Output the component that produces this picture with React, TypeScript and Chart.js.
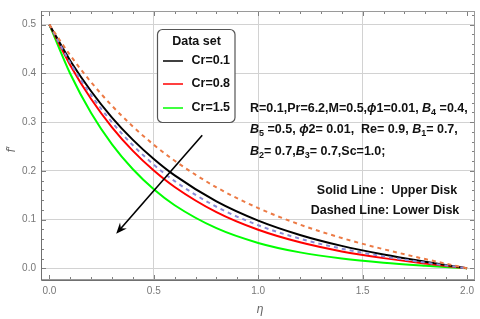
import React, { useEffect, useRef } from "react";
import { Chart, registerables } from "chart.js";
Chart.register(...registerables);

// η sample positions and f'(η) values
const eta = [0, 0.1, 0.2, 0.3, 0.4, 0.5, 0.6, 0.8, 1.0, 1.2, 1.4, 1.6, 1.8, 2.0];
const upperCr01 = [0.5, 0.4261, 0.3633, 0.3094, 0.2635, 0.2243, 0.1906, 0.1373, 0.0979, 0.0685, 0.046, 0.0283, 0.0135, 0];
const upperCr08 = [0.5, 0.4167, 0.3473, 0.2893, 0.2409, 0.2006, 0.1669, 0.1152, 0.079, 0.0533, 0.0347, 0.0209, 0.0098, 0];
const upperCr15 = [0.5, 0.3992, 0.3188, 0.2544, 0.2032, 0.1621, 0.1294, 0.0823, 0.0521, 0.0327, 0.02, 0.0114, 0.0052, 0];
const lowerA = [0.5, 0.4371, 0.3819, 0.3334, 0.2909, 0.2535, 0.2207, 0.1662, 0.1236, 0.0897, 0.0622, 0.0392, 0.0189, 0];
const lowerB = [0.5, 0.4217, 0.3555, 0.2996, 0.2525, 0.2127, 0.1789, 0.1263, 0.0884, 0.0608, 0.0403, 0.0245, 0.0116, 0];

const legendLabels = ["Cr=0.1", "Cr=0.8", "Cr=1.5"];
const legendColors = ["#000000", "#ff0000", "#00ff00"];

const xTicks = [0, 0.5, 1.0, 1.5, 2.0];
const yTicks = [0, 0.1, 0.2, 0.3, 0.4, 0.5];

// arrow (data coordinates): start, end
const arrowFrom = [0.732, 0.273];
const arrowTo = [0.32, 0.071];

type Seg = { t: string; i?: boolean; sub?: boolean };
const paramLines: Seg[][] = [
  [{ t: "R=0.1,Pr=6.2,M=0.5," }, { t: "ϕ", i: true }, { t: "1=0.01, " }, { t: "B", i: true }, { t: "4", sub: true }, { t: " =0.4," }],
  [{ t: "B", i: true }, { t: "5", sub: true }, { t: " =0.5, " }, { t: "ϕ", i: true }, { t: "2= 0.01,  Re= 0.9, " }, { t: "B", i: true }, { t: "1", sub: true }, { t: "= 0.7," }],
  [{ t: "B", i: true }, { t: "2", sub: true }, { t: "= 0.7," }, { t: "B", i: true }, { t: "3", sub: true }, { t: "= 0.7,Sc=1.0;" }],
];

const FONT = "'Liberation Sans', Arial, sans-serif";

function pts(vals: number[]) {
  return eta.map((e, i) => ({ x: e, y: vals[i] }));
}

function drawRich(ctx: CanvasRenderingContext2D, segs: Seg[], x: number, y: number, size: number) {
  let cx = x;
  ctx.textBaseline = "middle";
  ctx.textAlign = "left";
  for (const s of segs) {
    const sz = s.sub ? size * 0.72 : size;
    ctx.font = `${s.i ? "italic " : ""}bold ${sz}px ${FONT}`;
    const dy = s.sub ? size * 0.28 : 0;
    ctx.fillText(s.t, cx, y + dy);
    cx += ctx.measureText(s.t).width;
  }
}

const decor = {
  id: "decor",
  beforeDatasetsDraw(chart: any) {
    const { ctx, chartArea: a, scales } = chart;
    const x = scales.x, y = scales.y;
    ctx.save();
    ctx.strokeStyle = "#808080";
    ctx.lineWidth = 1;
    ctx.beginPath();
    for (let i = 0; i <= 20; i++) {
      const px = Math.round(x.getPixelForValue(i / 10)) + 0.5;
      const len = i % 5 === 0 ? 5 : 3;
      ctx.moveTo(px, a.bottom);
      ctx.lineTo(px, a.bottom - len);
      ctx.moveTo(px, a.top);
      ctx.lineTo(px, a.top + len);
    }
    for (let i = 0; i <= 26; i++) {
      const py = Math.round(y.getPixelForValue(i * 0.02)) + 0.5;
      const len = i % 5 === 0 ? 5 : 3;
      ctx.moveTo(a.left, py);
      ctx.lineTo(a.left + len, py);
      ctx.moveTo(a.right, py);
      ctx.lineTo(a.right - len, py);
    }
    ctx.stroke();
    ctx.strokeStyle = "#9a9a9a";
    ctx.strokeRect(a.left + 0.5, a.top + 0.5, a.right - a.left - 1, a.bottom - a.top - 1);
    ctx.strokeStyle = "#707070";
    ctx.beginPath();
    ctx.moveTo(a.left + 0.5, a.top);
    ctx.lineTo(a.left + 0.5, a.bottom + 0.5);
    ctx.lineTo(a.right, a.bottom + 0.5);
    ctx.stroke();

    // axis titles
    ctx.fillStyle = "#666";
    ctx.font = `italic 12px ${FONT}`;
    ctx.textAlign = "center";
    ctx.textBaseline = "middle";
    ctx.fillText("η", (a.left + a.right) / 2 + 2, 310);
    ctx.translate(12, (a.top + a.bottom) / 2 + 4);
    ctx.rotate(-Math.PI / 2);
    ctx.fillText("f′", 0, 0);
    ctx.restore();
  },
  afterDatasetsDraw(chart: any) {
    const { ctx, scales } = chart;
    const x = scales.x, y = scales.y;
    ctx.save();
    // arrow
    const x1 = x.getPixelForValue(arrowFrom[0]), y1 = y.getPixelForValue(arrowFrom[1]);
    const x2 = x.getPixelForValue(arrowTo[0]), y2 = y.getPixelForValue(arrowTo[1]);
    const ang = Math.atan2(y2 - y1, x2 - x1);
    const hl = 11, hw = 4.5;
    ctx.strokeStyle = "#000";
    ctx.lineWidth = 1.6;
    ctx.beginPath();
    ctx.moveTo(x1, y1);
    ctx.lineTo(x2 - Math.cos(ang) * 6, y2 - Math.sin(ang) * 6);
    ctx.stroke();
    ctx.fillStyle = "#000";
    ctx.beginPath();
    ctx.moveTo(x2, y2);
    const bx = x2 - Math.cos(ang) * hl, by = y2 - Math.sin(ang) * hl;
    const nx = -Math.sin(ang), ny = Math.cos(ang);
    ctx.lineTo(bx + nx * hw, by + ny * hw);
    ctx.lineTo(x2 - Math.cos(ang) * hl * 0.65, y2 - Math.sin(ang) * hl * 0.65);
    ctx.lineTo(bx - nx * hw, by - ny * hw);
    ctx.closePath();
    ctx.fill();

    // legend box
    const L = 157.5, T = 29.5, W = 77.5, H = 93, r = 5;
    ctx.fillStyle = "#fff";
    ctx.strokeStyle = "#555";
    ctx.lineWidth = 1.2;
    ctx.beginPath();
    ctx.roundRect(L, T, W, H, r);
    ctx.fill();
    ctx.stroke();
    ctx.fillStyle = "#111";
    ctx.font = `bold 12.5px ${FONT}`;
    ctx.textAlign = "center";
    ctx.textBaseline = "middle";
    ctx.fillText("Data set", 196.5, 42);
    const rows = [61, 84, 108];
    ctx.textAlign = "left";
    legendLabels.forEach((lab, i) => {
      ctx.strokeStyle = legendColors[i];
      ctx.lineWidth = 1.5;
      ctx.beginPath();
      ctx.moveTo(163, rows[i]);
      ctx.lineTo(183, rows[i]);
      ctx.stroke();
      ctx.fillStyle = "#111";
      ctx.fillText(lab, 191.5, rows[i]);
    });

    // parameters
    ctx.fillStyle = "#111";
    const ly = [109, 130, 152];
    paramLines.forEach((segs, i) => drawRich(ctx, segs, 250, ly[i], 12.5));

    ctx.font = `bold 12.5px ${FONT}`;
    ctx.textAlign = "center";
    ctx.fillText("Solid Line :  Upper Disk", 387, 191);
    ctx.fillText("Dashed Line: Lower Disk", 385, 210.5);
    ctx.restore();
  },
};

export default function App() {
  const ref = useRef<HTMLCanvasElement>(null);
  useEffect(() => {
    document.body.style.margin = "0";
    const cv = ref.current!;
    const chart = new Chart(cv, {
      type: "line",
      data: {
        datasets: [
          { data: pts(lowerA), borderColor: "#ec7a45", borderDash: [4, 4], borderWidth: 2 },
          { data: pts(lowerB), borderColor: "#8a8ad6", borderDash: [4, 4], borderWidth: 2 },
          { data: pts(upperCr01), borderColor: legendColors[0], borderWidth: 2 },
          { data: pts(upperCr08), borderColor: legendColors[1], borderWidth: 2 },
          { data: pts(upperCr15), borderColor: legendColors[2], borderWidth: 2 },
        ] as any,
      },
      options: {
        responsive: false,
        animation: false,
        events: [],
        layout: { padding: { top: 6, right: 5, left: 0, bottom: 0 } },
        elements: { point: { radius: 0 }, line: { cubicInterpolationMode: "monotone", fill: false } },
        plugins: { legend: { display: false }, tooltip: { enabled: false }, title: { display: false } },
        scales: {
          x: {
            type: "linear",
            min: -0.04,
            max: 2.038,
            afterFit: (s: any) => { s.height = 39; },
            afterBuildTicks: (s: any) => { s.ticks = xTicks.map((v) => ({ value: v })); },
            border: { display: false },
            grid: {
              drawTicks: false,
              color: (c: any) => (c.tick && (c.tick.value === 0 || c.tick.value === 2) ? "rgba(0,0,0,0)" : "#d2d2d2"),
              lineWidth: 1,
            },
            ticks: {
              padding: 5,
              color: "#777",
              font: { family: FONT, size: 10 },
              callback: (v: any) => Number(v).toFixed(1),
            },
          },
          y: {
            type: "linear",
            min: -0.024,
            max: 0.528,
            afterFit: (s: any) => { s.width = 41; },
            afterBuildTicks: (s: any) => { s.ticks = yTicks.map((v) => ({ value: v })); },
            border: { display: false },
            grid: { drawTicks: false, color: "#d2d2d2", lineWidth: 1 },
            ticks: {
              padding: 5,
              color: "#777",
              font: { family: FONT, size: 10 },
              callback: (v: any) => Number(v).toFixed(1),
            },
          },
        },
      },
      plugins: [decor],
    } as any);
    return () => chart.destroy();
  }, []);
  return <canvas ref={ref} width={480} height={319} style={{ display: "block" }} />;
}
